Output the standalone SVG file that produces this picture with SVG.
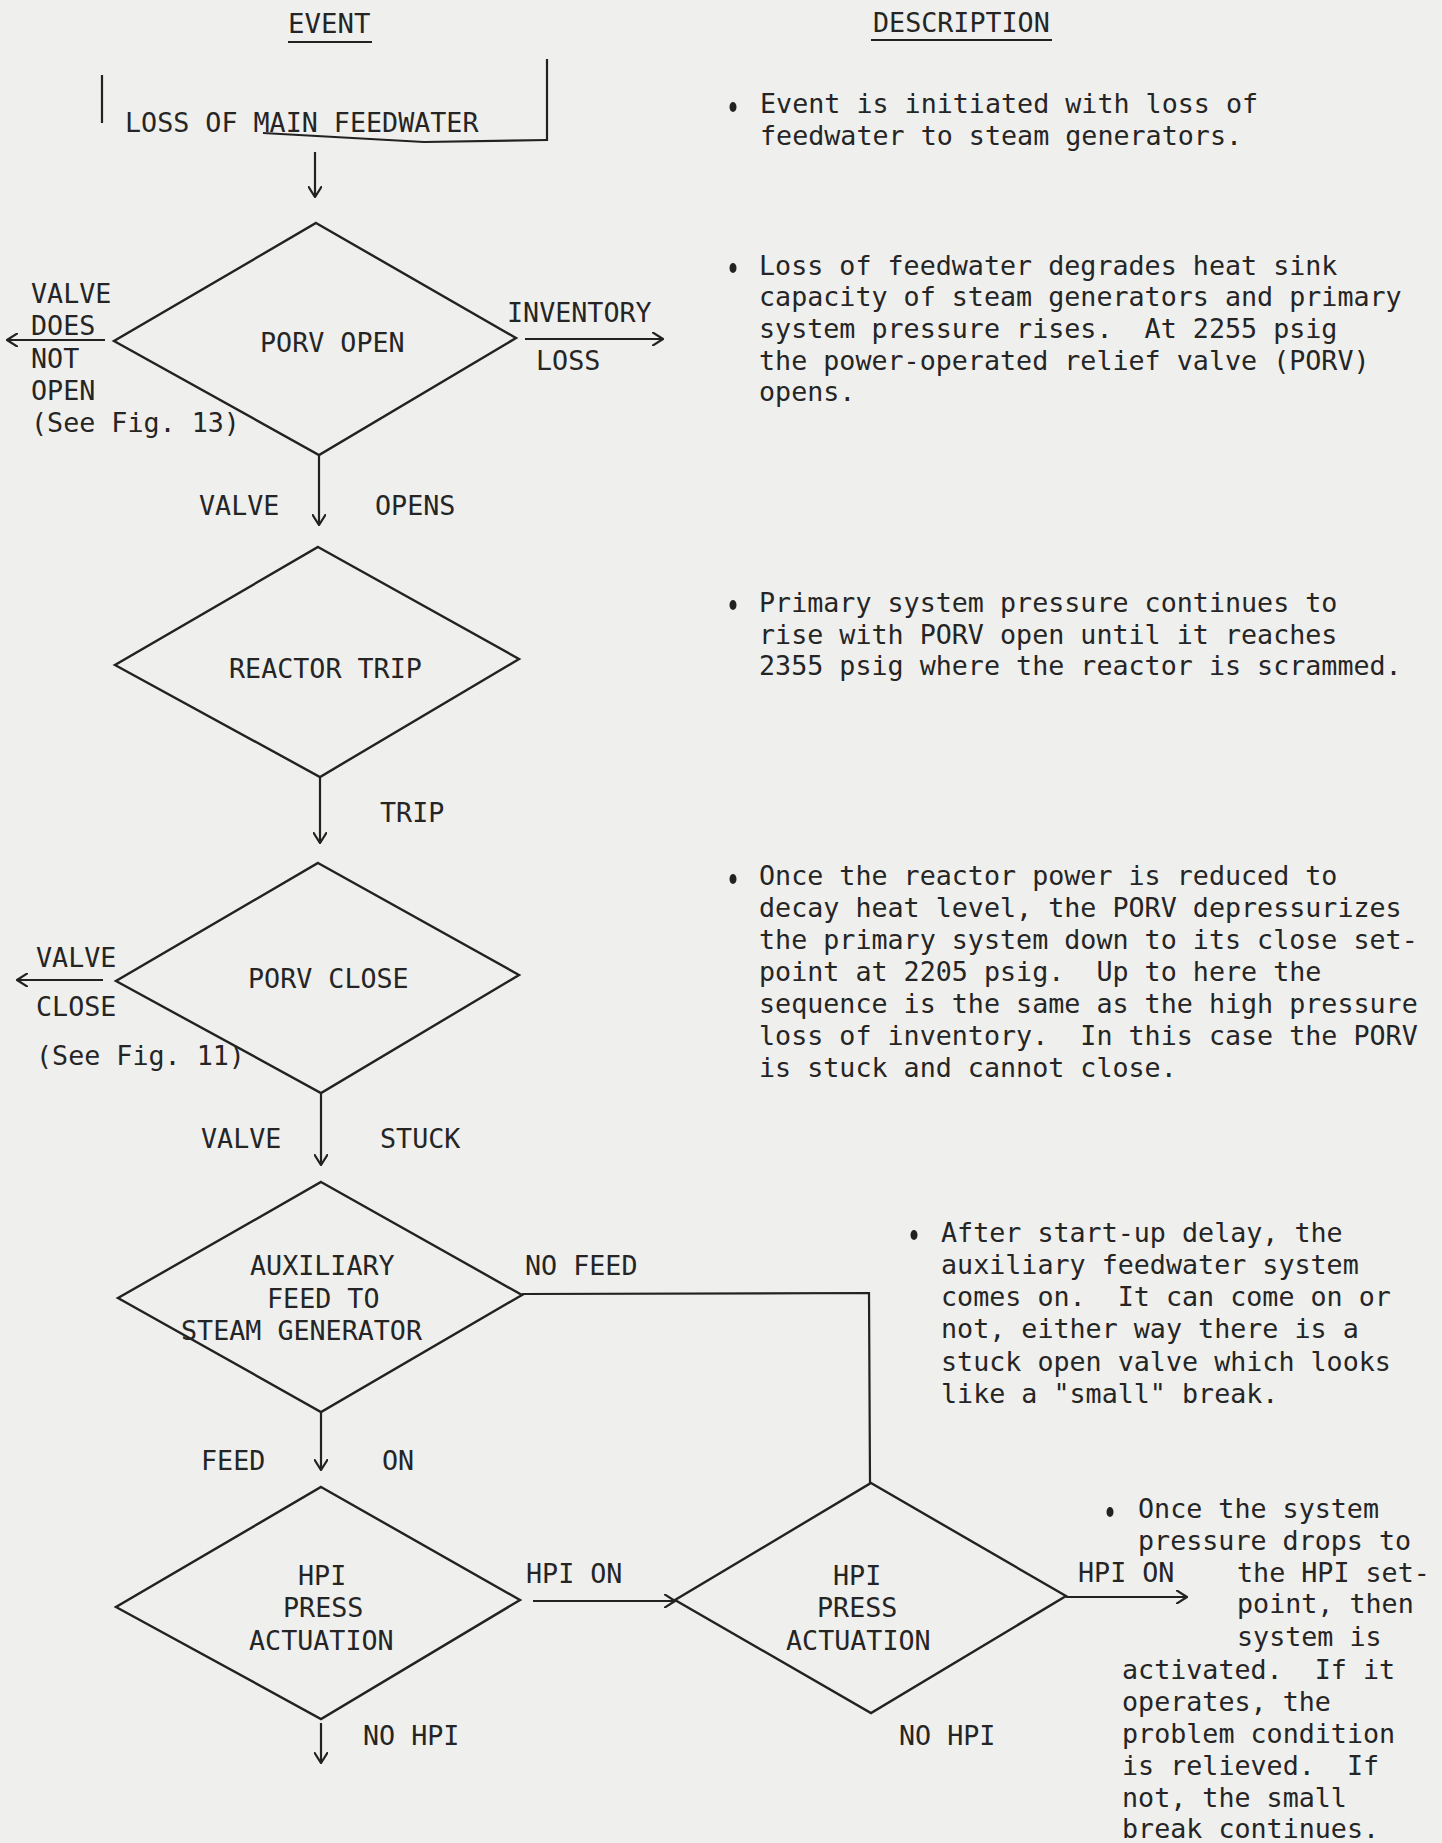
<svg xmlns="http://www.w3.org/2000/svg" width="1442" height="1843" viewBox="0 0 1442 1843">
<style>
text{font-family:"DejaVu Sans Mono","Liberation Mono",monospace;font-size:26.7px;fill:#252525;white-space:pre}
.hd{font-size:27.4px}
.ln{stroke:#222;stroke-width:2.2;fill:none}
.dm{stroke:#222;stroke-width:2.4;fill:none;stroke-linejoin:miter}
.ar{stroke:#222;stroke-width:2.2;fill:none;marker-end:url(#arr)}
.bl{fill:#222}
</style>
<defs>
<marker id="arr" viewBox="0 0 12 14" refX="11" refY="7" markerWidth="12" markerHeight="14" orient="auto" markerUnits="userSpaceOnUse">
<path d="M0,0 L11,7 L0,14" fill="none" stroke="#222" stroke-width="2.2"/>
</marker>
</defs>
<rect width="1442" height="1843" fill="#efefed"/>

<g id="headers">
<text class="hd" x="288" y="33">EVENT</text>
<line class="ln" x1="288" y1="42" x2="372" y2="42" stroke-width="3"/>
<text x="873" y="32">DESCRIPTION</text>
<line class="ln" x1="871" y1="40" x2="1052" y2="40" stroke-width="3"/>
</g>

<g id="node-loss-feedwater">
<line class="ln" x1="102" y1="75" x2="102" y2="123"/>
<line class="ln" x1="547" y1="59" x2="547" y2="141"/>
<polyline class="ln" points="263,133 424,142 547,140"/>
<text x="125" y="132">LOSS OF MAIN FEEDWATER</text>
</g>

<g id="node-porv-open">
<polygon class="dm" points="316,223 516,338 319,455 114,341"/>
<text x="260" y="352">PORV OPEN</text>
</g>

<g id="node-reactor-trip">
<polygon class="dm" points="318,547 519,659 320,777 115,665"/>
<text x="229" y="678">REACTOR TRIP</text>
</g>

<g id="node-porv-close">
<polygon class="dm" points="318,863 519,975 321,1093 116,981"/>
<text x="248" y="988">PORV CLOSE</text>
</g>

<g id="node-aux-feed">
<polygon class="dm" points="321,1182 522,1295 321,1412 118,1298"/>
<text x="250" y="1275">AUXILIARY</text>
<text x="267" y="1308">FEED TO</text>
<text x="181" y="1340">STEAM GENERATOR</text>
</g>

<g id="node-hpi-1">
<polygon class="dm" points="321,1487 520,1600 321,1719 116,1607"/>
<text x="298" y="1585">HPI</text>
<text x="283" y="1617">PRESS</text>
<text x="249" y="1650">ACTUATION</text>
</g>

<g id="node-hpi-2">
<polygon class="dm" points="871,1483 1066,1596 871,1713 675,1600"/>
<text x="833" y="1585">HPI</text>
<text x="817" y="1617">PRESS</text>
<text x="786" y="1650">ACTUATION</text>
</g>

<g id="connectors">
<line class="ar" x1="315" y1="152" x2="315" y2="197"/>
<line class="ar" x1="105" y1="340" x2="7" y2="340"/>
<line class="ar" x1="525" y1="339" x2="663" y2="339"/>
<line class="ar" x1="319" y1="455" x2="319" y2="525"/>
<line class="ar" x1="320" y1="777" x2="320" y2="843"/>
<line class="ar" x1="103" y1="980" x2="17" y2="980"/>
<line class="ar" x1="321" y1="1093" x2="321" y2="1165"/>
<line class="ar" x1="321" y1="1412" x2="321" y2="1470"/>
<polyline class="ln" points="522,1294 869,1293 870,1483" stroke-width="2.6"/>
<line class="ar" x1="533" y1="1601" x2="675" y2="1601" stroke-width="2.8"/>
<line class="ar" x1="321" y1="1723" x2="321" y2="1763"/>
<line class="ar" x1="1066" y1="1597" x2="1187" y2="1597" stroke-width="2.6"/>
</g>

<g id="connector-labels">
<text x="31" y="303">VALVE</text>
<text x="31" y="335">DOES</text>
<text x="31" y="368">NOT</text>
<text x="31" y="400">OPEN</text>
<text x="31" y="432">(See Fig. 13)</text>
<text x="507" y="322">INVENTORY</text>
<text x="536" y="370">LOSS</text>
<text x="199" y="515">VALVE</text>
<text x="375" y="515">OPENS</text>
<text x="380" y="822">TRIP</text>
<text x="36" y="967">VALVE</text>
<text x="36" y="1016">CLOSE</text>
<text x="36" y="1065">(See Fig. 11)</text>
<text x="201" y="1148">VALVE</text>
<text x="380" y="1148">STUCK</text>
<text x="525" y="1275">NO FEED</text>
<text x="201" y="1470">FEED</text>
<text x="382" y="1470">ON</text>
<text x="526" y="1583">HPI ON</text>
<text x="363" y="1745">NO HPI</text>
<text x="899" y="1745">NO HPI</text>
<text x="1078" y="1582">HPI ON</text>
</g>

<g id="desc-1">
<ellipse class="bl" cx="733" cy="107" rx="3.5" ry="5"/>
<text x="760" y="113">Event is initiated with loss of</text>
<text x="760" y="145">feedwater to steam generators.</text>
</g>

<g id="desc-2">
<ellipse class="bl" cx="733" cy="268" rx="3.5" ry="5"/>
<text x="759" y="275">Loss of feedwater degrades heat sink</text>
<text x="759" y="306">capacity of steam generators and primary</text>
<text x="759" y="338">system pressure rises.  At 2255 psig</text>
<text x="759" y="370">the power-operated relief valve (PORV)</text>
<text x="759" y="401">opens.</text>
</g>

<g id="desc-3">
<ellipse class="bl" cx="733" cy="605" rx="3.5" ry="5"/>
<text x="759" y="612">Primary system pressure continues to</text>
<text x="759" y="644">rise with PORV open until it reaches</text>
<text x="759" y="675">2355 psig where the reactor is scrammed.</text>
</g>

<g id="desc-4">
<ellipse class="bl" cx="733" cy="879" rx="3.5" ry="5"/>
<text x="759" y="885">Once the reactor power is reduced to</text>
<text x="759" y="917">decay heat level, the PORV depressurizes</text>
<text x="759" y="949">the primary system down to its close set-</text>
<text x="759" y="981">point at 2205 psig.  Up to here the</text>
<text x="759" y="1013">sequence is the same as the high pressure</text>
<text x="759" y="1045">loss of inventory.  In this case the PORV</text>
<text x="759" y="1077">is stuck and cannot close.</text>
</g>

<g id="desc-5">
<ellipse class="bl" cx="914" cy="1235" rx="3.5" ry="5"/>
<text x="941" y="1242">After start-up delay, the</text>
<text x="941" y="1274">auxiliary feedwater system</text>
<text x="941" y="1306">comes on.  It can come on or</text>
<text x="941" y="1338">not, either way there is a</text>
<text x="941" y="1371">stuck open valve which looks</text>
<text x="941" y="1403">like a "small" break.</text>
</g>

<g id="desc-6">
<ellipse class="bl" cx="1110" cy="1512" rx="3.5" ry="5"/>
<text x="1138" y="1518">Once the system</text>
<text x="1138" y="1550">pressure drops to</text>
<text x="1237" y="1582">the HPI set-</text>
<text x="1237" y="1613">point, then</text>
<text x="1237" y="1646">system is</text>
<text x="1122" y="1679">activated.  If it</text>
<text x="1122" y="1711">operates, the</text>
<text x="1122" y="1743">problem condition</text>
<text x="1122" y="1775">is relieved.  If</text>
<text x="1122" y="1807">not, the small</text>
<text x="1122" y="1838">break continues.</text>
</g>
</svg>
